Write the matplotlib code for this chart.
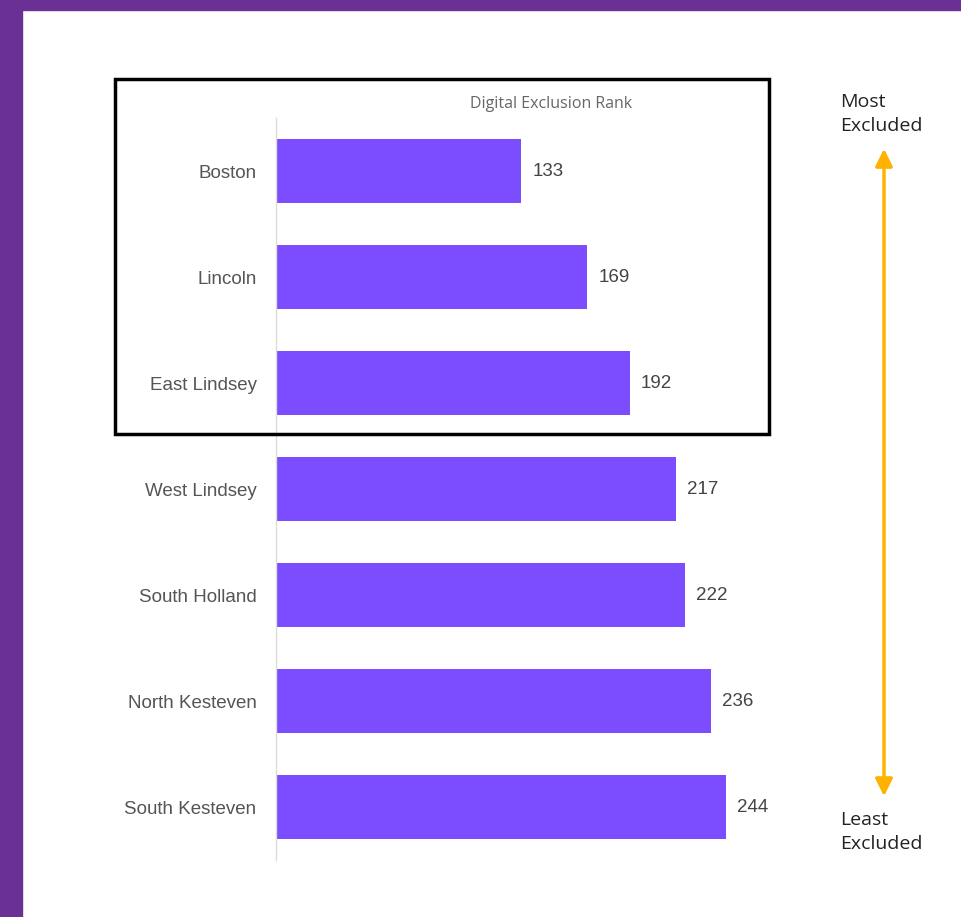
import matplotlib
matplotlib.use("Agg")
import matplotlib.pyplot as plt
from matplotlib.patches import Rectangle, FancyArrowPatch

# --- Data ---
districts = ["Boston", "Lincoln", "East Lindsey", "West Lindsey",
             "South Holland", "North Kesteven", "South Kesteven"]
ranks = [133, 169, 192, 217, 222, 236, 244]

bar_color = "#7B4DFF"
frame_color = "#6A3093"

fig = plt.figure(figsize=(9.61, 9.17), dpi=100)
fig.patch.set_facecolor("white")

# purple frame strips (left and top)
fig.patches.append(Rectangle((0, 0), 22 / 961, 1, transform=fig.transFigure,
                             color=frame_color, zorder=0))
fig.patches.append(Rectangle((0, 1 - 10 / 917), 1, 10 / 917, transform=fig.transFigure,
                             color=frame_color, zorder=0))

# --- Bars ---
ax = fig.add_axes([276 / 961, 1 - 860 / 917, 479 / 961, 742 / 917])
y = list(range(len(districts)))
ax.barh(y, ranks, height=0.6, color=bar_color)
ax.set_xlim(0, 260)
ax.set_ylim(len(districts) - 0.5, -0.5)

ax.set_yticks(y)
ax.set_yticklabels(districts, fontsize=13.5, color="#555555", family="Liberation Sans")
ax.tick_params(axis="y", length=0, pad=14)
ax.set_xticks([])
for s in ["top", "right", "bottom"]:
    ax.spines[s].set_visible(False)
ax.spines["left"].set_color("#dcdcdc")
ax.spines["left"].set_linewidth(1)

for yi, v in zip(y, ranks):
    ax.annotate(str(v), (v, yi), xytext=(8, 0), textcoords="offset points",
                va="center", ha="left", fontsize=13.5, color="#444444",
                family="Liberation Sans")

fig.text(551 / 961, 1 - 104 / 917, "Digital Exclusion Rank", ha="center", va="center",
         fontsize=11.5, color="#666666", family="Open Sans")

# black box around the top three
fig.patches.append(Rectangle((115 / 961, 1 - 434 / 917), 654 / 961, 355 / 917,
                             transform=fig.transFigure, fill=False,
                             edgecolor="black", linewidth=2.5, zorder=5))

# orange double arrow
arrow = FancyArrowPatch((884 / 961, 1 - 146 / 917), (884 / 961, 1 - 799 / 917),
                        transform=fig.transFigure, arrowstyle="<|-|>",
                        mutation_scale=26, color="#FFB300", linewidth=2.5)
fig.patches.append(arrow)

fig.text(840 / 961, 1 - 114 / 917, "Most\nExcluded", ha="left", va="center",
         fontsize=14, color="#222222", family="Open Sans", linespacing=1.45)
fig.text(840 / 961, 1 - 832 / 917, "Least\nExcluded", ha="left", va="center",
         fontsize=14, color="#222222", family="Open Sans", linespacing=1.45)

fig.savefig("out.png", dpi=100)
